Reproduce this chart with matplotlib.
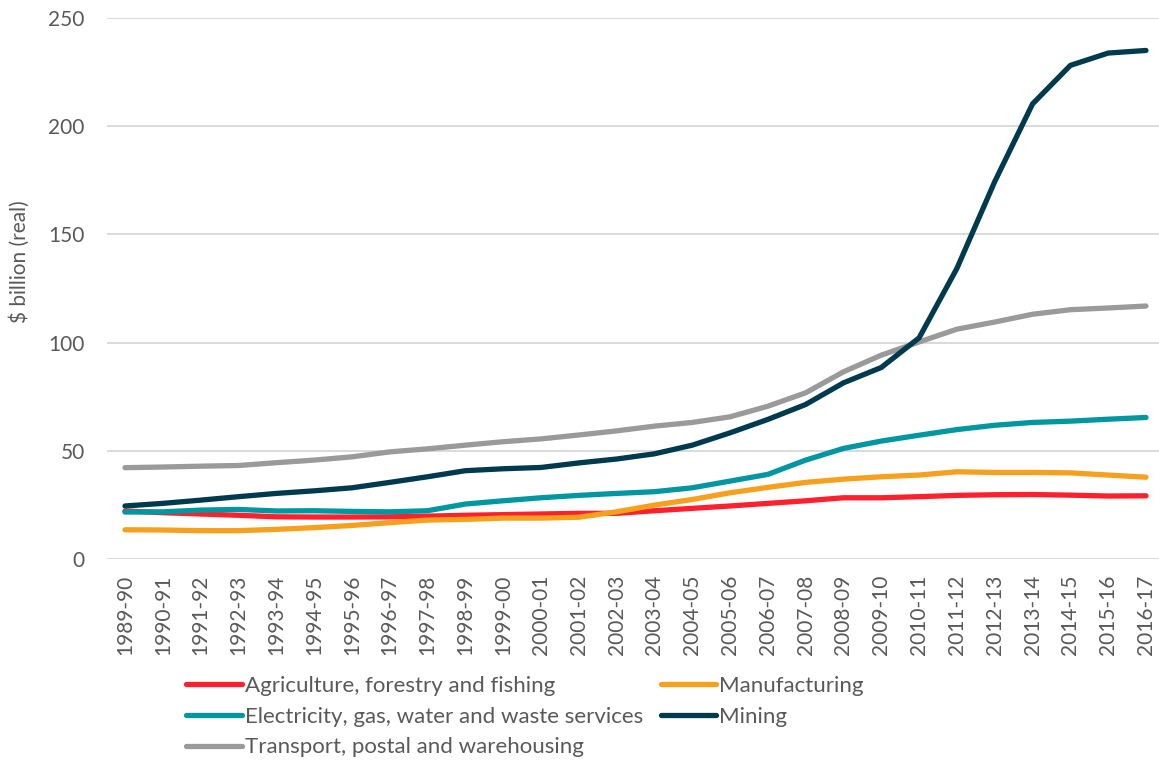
import numpy as np
import matplotlib.pyplot as plt

plt.rcParams['font.family'] = ['Lato', 'DejaVu Sans']

years = ['1989-90', '1990-91', '1991-92', '1992-93', '1993-94', '1994-95',
         '1995-96', '1996-97', '1997-98', '1998-99', '1999-00', '2000-01',
         '2001-02', '2002-03', '2003-04', '2004-05', '2005-06', '2006-07',
         '2007-08', '2008-09', '2009-10', '2010-11', '2011-12', '2012-13',
         '2013-14', '2014-15', '2015-16', '2016-17']

agriculture = [22.2, 21.4, 20.8, 20.2, 19.5, 19.4, 19.4, 19.5, 19.8, 20.2,
               20.5, 20.8, 21.1, 21.1, 22.3, 23.4, 24.5, 25.7, 26.9, 28.3,
               28.3, 28.8, 29.4, 29.7, 29.8, 29.5, 29.1, 29.2]
manufacturing = [13.5, 13.4, 13.1, 13.1, 13.7, 14.5, 15.5, 16.8, 18.0, 18.3,
                 18.9, 18.9, 19.3, 21.8, 24.9, 27.5, 30.6, 33.1, 35.4, 36.9,
                 38.0, 38.8, 40.3, 40.0, 40.0, 39.8, 38.8, 37.8]
electricity = [21.7, 21.8, 22.6, 22.9, 22.2, 22.3, 22.0, 21.8, 22.3, 25.4,
               26.9, 28.3, 29.4, 30.3, 31.1, 32.9, 36.0, 39.1, 45.7, 51.1,
               54.5, 57.2, 59.8, 61.8, 63.1, 63.7, 64.6, 65.4]
mining = [24.5, 25.7, 27.2, 28.8, 30.3, 31.5, 32.9, 35.4, 38.0, 40.8,
          41.7, 42.3, 44.4, 46.2, 48.6, 52.6, 58.3, 64.5, 71.4, 81.4,
          88.5, 102.2, 134.3, 174.4, 210.3, 228.1, 233.8, 235.0]
transport = [42.2, 42.5, 42.9, 43.2, 44.5, 45.7, 47.2, 49.5, 50.9, 52.6,
             54.2, 55.5, 57.3, 59.2, 61.4, 63.1, 65.7, 70.6, 76.8, 86.5,
             94.2, 100.3, 106.2, 109.5, 113.1, 115.2, 116.0, 116.9]

text_grey = '#595959'

fig = plt.figure(figsize=(11.59, 7.64), dpi=100)
ax = fig.add_axes([107 / 1159, 1 - 559 / 764, 1052 / 1159, 541 / 764])

x = np.arange(len(years))
lw = 3.8
ax.plot(x, agriculture, color='#ff1f2d', lw=lw, solid_capstyle='round',
        label='Agriculture, forestry and fishing')
ax.plot(x, electricity, color='#0097a1', lw=lw, solid_capstyle='round',
        label='Electricity, gas, water and waste services')
ax.plot(x, transport, color='#9a9a9a', lw=lw, solid_capstyle='round',
        label='Transport, postal and warehousing')
ax.plot(x, manufacturing, color='#f7a01e', lw=lw, solid_capstyle='round',
        label='Manufacturing')
ax.plot(x, mining, color='#003a4f', lw=lw, solid_capstyle='round',
        label='Mining')

ax.set_ylim(0, 250)
ax.set_yticks(range(0, 251, 50))
ax.set_xlim(-0.476, 27.344)
ax.set_xticks(x)
ax.set_xticklabels(years, rotation=90)

ax.grid(axis='y', color='#d9d9d9', lw=1.4)
ax.set_axisbelow(True)
for s in ax.spines.values():
    s.set_visible(False)
ax.tick_params(axis='both', length=0, labelsize=15, labelcolor=text_grey)
ax.tick_params(axis='y', pad=16)
ax.tick_params(axis='x', pad=11)

ax.set_ylabel('$ billion (real)', fontsize=15, color=text_grey)
ax.yaxis.set_label_coords(-0.073, 0.55)

fig.legend(loc='upper left', bbox_to_anchor=(186 / 1159, 1 - 676 / 764),
           ncol=2, frameon=False, fontsize=16, labelcolor=text_grey,
           handlelength=2.5, handletextpad=0.14, columnspacing=0.8,
           labelspacing=0.48, borderaxespad=0, borderpad=0)

fig.savefig('out.png', dpi=100)
